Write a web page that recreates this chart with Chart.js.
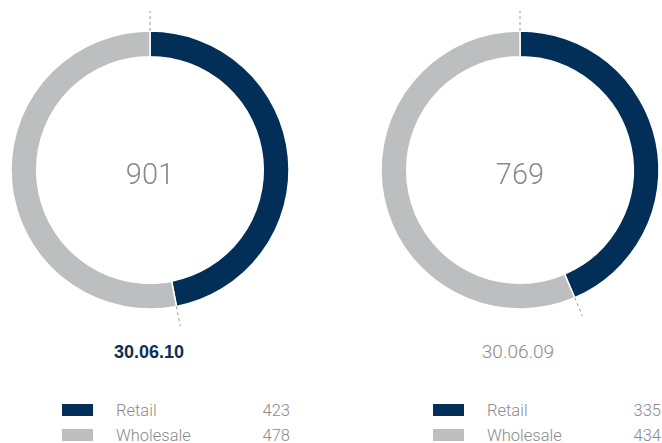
<!DOCTYPE html>
<html>
<head>
<meta charset="utf-8">
<script src="https://cdn.jsdelivr.net/npm/chart.js@4.4.0/dist/chart.umd.min.js"></script>
<style>
  html, body { margin: 0; padding: 0; background: #fff; }
  body { width: 662px; height: 443px; position: relative; overflow: hidden;
         font-family: Roboto, "Liberation Sans", Arial, sans-serif; }
  .chart { position: absolute; top: 0; width: 300px; height: 340px; }
  .date { position: absolute; top: 341px; width: 300px; text-align: center;
          font-size: 18px; line-height: 22px; }
  .date.current { color: #0b3157; font-weight: bold; font-family: "Liberation Sans", Arial, sans-serif; }
  .date.previous { color: #8a8a8a; font-weight: 300; font-size: 19px; }
  .legend { position: absolute; top: 398px; width: 228px; font-size: 16.5px;
            color: #8a8a8a; font-weight: 300; }
  .legend .row { position: relative; height: 25px; line-height: 25px; }
  .legend .swatch { position: absolute; left: 0; top: 6px; width: 31px; height: 12px; }
  .legend .label { position: absolute; left: 54px; }
  .legend .value { position: absolute; right: 0; }
</style>
</head>
<body>
<div class="chart" style="left:0"><canvas id="chart2010" width="300" height="340"></canvas></div>
<div class="chart" style="left:370px"><canvas id="chart2009" width="300" height="340"></canvas></div>
<div class="date current" style="left:-1px">30.06.10</div>
<div class="date previous" style="left:368px">30.06.09</div>
<div class="legend" id="legend2010" style="left:62px"></div>
<div class="legend" id="legend2009" style="left:433px"></div>

<script>
// data
const categories = ['Retail', 'Wholesale'];
const values2010 = [423, 478];
const values2009 = [335, 434];
const colors = ['#022f57', '#bdbec0'];

// dashed leader lines at each slice start + total in the middle
const donutExtras = {
    id: 'donutExtras',
    afterDatasetsDraw(chart) {
        const ctx = chart.ctx;
        const arcs = chart.getDatasetMeta(0).data;
        ctx.save();
        ctx.strokeStyle = '#9a9a9a';
        ctx.lineWidth = 1;
        ctx.setLineDash([3, 3]);
        arcs.forEach(arc => {
            const a = arc.startAngle;
            const r0 = arc.outerRadius;
            const r1 = r0 + 20;
            ctx.beginPath();
            ctx.moveTo(arc.x + Math.cos(a) * r0, arc.y + Math.sin(a) * r0);
            ctx.lineTo(arc.x + Math.cos(a) * r1, arc.y + Math.sin(a) * r1);
            ctx.stroke();
        });
        ctx.setLineDash([]);

        const total = chart.data.datasets[0].data.reduce((s, v) => s + v, 0);
        const c = arcs[0];
        ctx.fillStyle = '#8a8a8a';
        ctx.font = '300 29px Roboto, "Liberation Sans", Arial, sans-serif';
        ctx.textAlign = 'center';
        ctx.textBaseline = 'middle';
        ctx.fillText(String(total), c.x, c.y + 7);
        ctx.restore();
    }
};

function renderDonut(id, values) {
    const ctx = document.getElementById(id).getContext('2d');
    return new Chart(ctx, {
        type: 'doughnut',
        data: {
            labels: categories,
            datasets: [{
                data: values,
                backgroundColor: colors,
                borderColor: '#ffffff',
                borderWidth: 1.5
            }]
        },
        options: {
            responsive: false,
            animation: false,
            radius: 139,
            cutout: '81.5%',
            plugins: {
                legend: { display: false },
                tooltip: { enabled: false }
            }
        },
        plugins: [donutExtras]
    });
}

function renderLegend(id, values) {
    const box = document.getElementById(id);
    let html = '';
    categories.forEach((name, i) => {
        html += `<div class="row"><span class="swatch" style="background:${colors[i]}"></span>` +
            `<span class="label">${name}</span><span class="value">${values[i]}</span></div>`;
    });
    box.innerHTML = html;
}

renderDonut('chart2010', values2010);
renderDonut('chart2009', values2009);
renderLegend('legend2010', values2010);
renderLegend('legend2009', values2009);
</script>
</body>
</html>
